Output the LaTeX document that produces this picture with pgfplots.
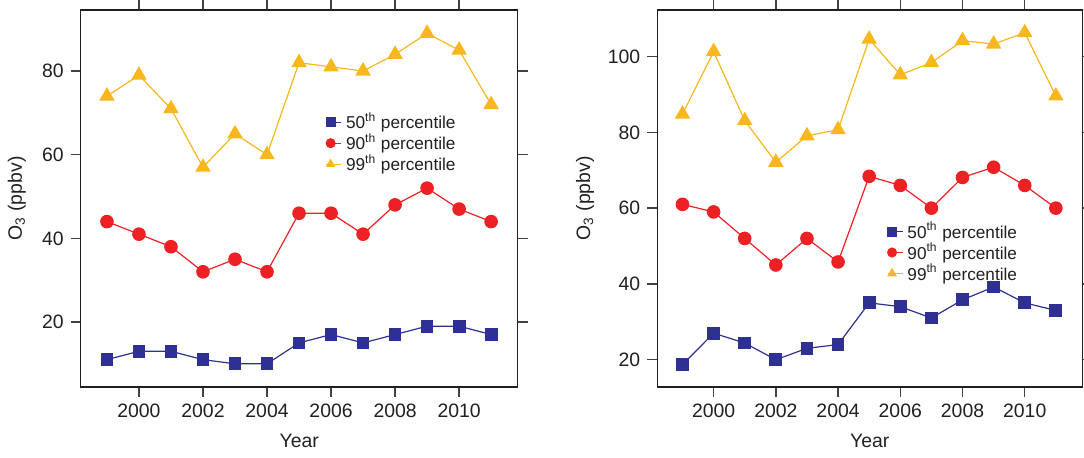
\documentclass[border=0pt]{standalone}
\usepackage{fontspec}
\setmainfont{Liberation Sans}
\usepackage{pgfplots}
\pgfplotsset{compat=1.18}
\definecolor{cblue}{HTML}{2E3192}
\definecolor{cred}{HTML}{ED2024}
\definecolor{cyel}{HTML}{F8B81D}
\definecolor{ctxt}{HTML}{231F20}
\pgfplotsset{
  myax/.style={
    anchor=south west, scale only axis, height=188.5pt,
    tick align=outside, major tick length=5pt,
    axis line style={ctxt, line width=0.75pt},
    every tick/.style={ctxt!85, line width=0.75pt},
    /pgf/number format/assume math mode=true,
    x tick label style={/pgf/number format/1000 sep={}, font=\fontsize{9.7}{11}\selectfont, text=ctxt},
    y tick label style={font=\fontsize{9.7}{11}\selectfont, text=ctxt},
    xtick={2000,2002,2004,2006,2008,2010},
    label style={font=\fontsize{9.7}{11}\selectfont, text=ctxt},
    xlabel={Year}, ylabel={O\textsubscript{3} (ppbv)},
    legend cell align=left,
    legend style={draw=none, fill=none, font=\fontsize{8.6}{9.5}\selectfont, text=ctxt, anchor=north west, row sep=-3.2pt, inner sep=1pt},
  },
  s50/.style={cblue, line width=0.6pt, mark=square*, mark size=2.9pt, mark options={solid, fill=cblue, draw=cblue}},
  s90/.style={cred, line width=0.6pt, mark=*, mark size=3.1pt, mark options={solid, fill=cred, draw=cred}},
  s99/.style={cyel, line width=0.6pt, mark=triangle*, mark size=3.9pt, mark options={solid, fill=cyel, draw=cyel}},
  legend image code/.code={\path (-2.2pt,0pt) -- (5.4pt,0pt); \draw[#1, mark size=2.2pt] plot coordinates {(0pt,0pt)};},
}
\begin{document}
\begin{tikzpicture}
\useasboundingbox (0,0) rectangle (542pt,229pt);
\begin{axis}[myax, at={(40.35pt,35.5pt)}, width=218.5pt,
  xmin=1998.18, xmax=2011.83, ymin=4.46, ymax=94.6,
  ytick={20,40,60,80},
  xlabel style={at={(axis description cs:0.5,-0.143)}, anchor=center},
  ylabel style={at={(axis description cs:-0.146,0.5)}, anchor=center},
  legend style={at={(0.555,0.745)}}]
\addplot[s50] coordinates {(1999,11) (2000,13) (2001,13) (2002,11) (2003,10) (2004,10) (2005,15) (2006,17) (2007,15) (2008,17) (2009,19) (2010,19) (2011,17)};
\addlegendentry{50\textsuperscript{th} percentile}
\addplot[s90] coordinates {(1999,44) (2000,41) (2001,38) (2002,32) (2003,35) (2004,32) (2005,46) (2006,46) (2007,41) (2008,48) (2009,52) (2010,47) (2011,44)};
\addlegendentry{90\textsuperscript{th} percentile}
\addplot[s99, legend image post style={mark size=2.7pt}] coordinates {(1999,74) (2000,79) (2001,71) (2002,57) (2003,65) (2004,60) (2005,82) (2006,81) (2007,80) (2008,84) (2009,89) (2010,85) (2011,72)};
\addlegendentry{99\textsuperscript{th} percentile}
\end{axis}
\begin{axis}[myax, at={(328.65pt,35.5pt)}, width=212.5pt,
  xmin=1998.19, xmax=2011.85, ymin=12.8, ymax=112.3,
  ytick={20,40,60,80,100},
  xlabel style={at={(axis description cs:0.5,-0.143)}, anchor=center},
  ylabel style={at={(axis description cs:-0.170,0.5)}, anchor=center},
  legend style={at={(0.535,0.455)}}]
\addplot[s50] coordinates {(1999,18.7) (2000,27) (2001,24.4) (2002,20) (2003,23) (2004,24) (2005,35) (2006,34) (2007,31) (2008,35.8) (2009,39.2) (2010,35) (2011,33)};
\addlegendentry{50\textsuperscript{th} percentile}
\addplot[s90] coordinates {(1999,61) (2000,59) (2001,52) (2002,45) (2003,52) (2004,45.8) (2005,68.4) (2006,66) (2007,60) (2008,68.1) (2009,70.8) (2010,66) (2011,60)};
\addlegendentry{90\textsuperscript{th} percentile}
\addplot[s99, legend image post style={mark size=2.7pt}] coordinates {(1999,84.8) (2000,101.3) (2001,83.1) (2002,72.1) (2003,79.1) (2004,80.7) (2005,104.6) (2006,95.2) (2007,98.4) (2008,104.2) (2009,103.3) (2010,106.3) (2011,89.6)};
\addlegendentry{99\textsuperscript{th} percentile}
\end{axis}
\end{tikzpicture}
\end{document}
